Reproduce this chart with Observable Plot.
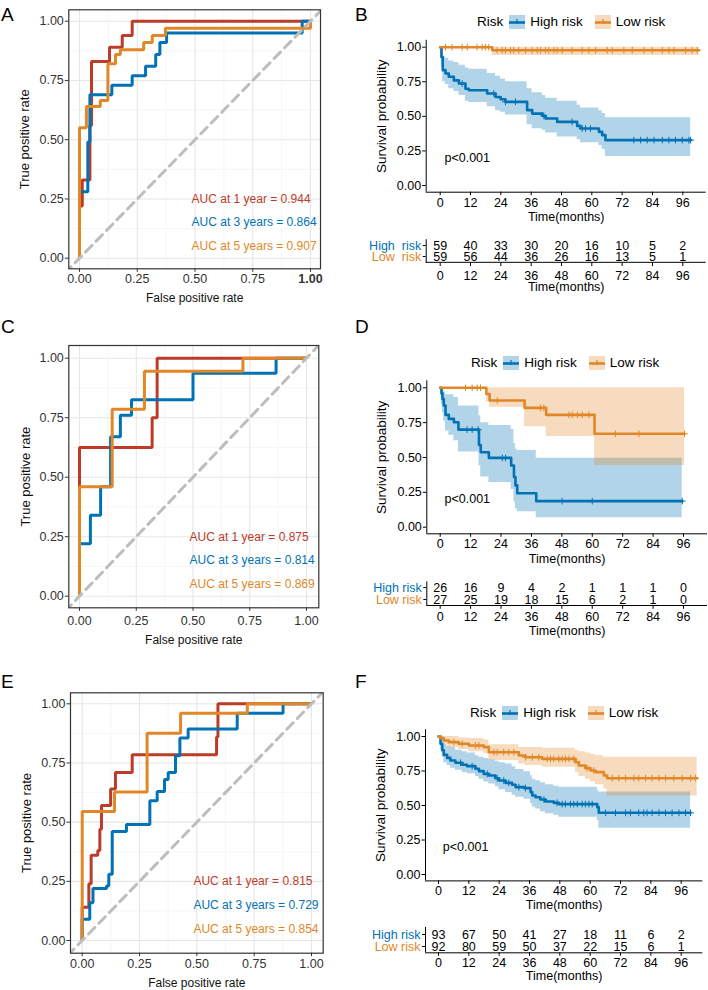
<!DOCTYPE html>
<html><head><meta charset="utf-8">
<script src="https://cdn.jsdelivr.net/npm/d3@7"></script>
<script src="https://cdn.jsdelivr.net/npm/@observablehq/plot@0.6"></script>
<style>
html,body{margin:0;padding:0;background:#fff;}
#fig{position:relative;width:708px;height:990px;overflow:hidden;font-family:"Liberation Sans",Arial,Helvetica,sans-serif;}
#fig text{white-space:pre;}
.letter{position:absolute;font-size:19px;line-height:19px;color:#000;}
.legend{position:absolute;display:flex;align-items:center;height:16px;font-size:13.5px;line-height:16px;color:#000;white-space:nowrap;}
</style></head>
<body><div id="fig"></div>
<script>
// ---------------- data ----------------
const rocTicks=[0,0.25,0.5,0.75,1];
const rocMinorTicks=[0.125,0.375,0.625,0.875];
const timeTicks=[0,12,24,36,48,60,72,84,96];
const survTicks=[0,0.25,0.5,0.75,1];
const rocSeries=["1 year","3 years","5 years"];
const riskGroups=["High risk","Low risk"];
const panelLetters=["A","B","C","D","E","F"];

// Panel A ROC
const aRedFpr=[0,0,0.012,0.045,0.052,0.13,0.185,0.228,1];
const aRedTpr=[0,0.22,0.33,0.56,0.83,0.89,0.94,1,1];
const aBlueFpr=[0,0,0.036,0.045,0.14,0.228,0.286,0.33,0.348,0.377,0.964,1];
const aBlueTpr=[0,0.28,0.49,0.69,0.73,0.77,0.81,0.86,0.91,0.95,1,1];
const aOrangeFpr=[0,0,0.03,0.09,0.123,0.156,0.177,0.278,0.315,0.372,1];
const aOrangeTpr=[0,0.55,0.64,0.665,0.82,0.86,0.88,0.91,0.94,0.97,1];
const aAuc=[0.944,0.864,0.907];

// Panel C ROC
const cRedFpr=[0,0,0.32,0.342,1];
const cRedTpr=[0,0.625,0.75,1,1];
const cBlueFpr=[0,0,0.048,0.093,0.137,0.18,0.229,0.5,0.866,1];
const cBlueTpr=[0,0.22,0.34,0.46,0.67,0.76,0.825,0.937,1,1];
const cOrangeFpr=[0,0,0.144,0.286,0.72,1];
const cOrangeTpr=[0,0.46,0.785,0.945,1,1];
const cAuc=[0.875,0.814,0.869];

// Panel E ROC
const eRedFpr=[0,0,0.029,0.039,0.068,0.077,0.084,0.124,0.145,0.218,0.586,0.592,1];
const eRedTpr=[0,0.14,0.24,0.36,0.38,0.47,0.57,0.64,0.71,0.785,0.86,1,1];
const eBlueFpr=[0,0,0.033,0.047,0.106,0.116,0.131,0.193,0.295,0.327,0.359,0.375,0.407,0.426,0.462,0.676,0.876,1];
const eBlueTpr=[0,0.09,0.16,0.22,0.23,0.28,0.46,0.49,0.59,0.63,0.68,0.71,0.78,0.856,0.894,0.96,1,1];
const eOrangeFpr=[0,0,0.141,0.283,0.429,0.72,1];
const eOrangeTpr=[0,0.545,0.627,0.876,0.96,1,1];
const eAuc=[0.815,0.729,0.854];

// Panel B KM
const bHighT=[0,0.5,1.0,2.1,3.4,5.4,7.4,10.0,11.3,18.6,21.9,23.9,25.8,34.4,36.4,40.4,41.7,46.3,54.2,55.5,62.8,64.1,65.4,99.1];
const bHighS=[1,0.93,0.834,0.81,0.786,0.76,0.737,0.70,0.689,0.665,0.64,0.624,0.605,0.545,0.52,0.504,0.484,0.46,0.431,0.412,0.388,0.364,0.328,0.328];
const bHighU=[1,1,0.93,0.92,0.90,0.89,0.87,0.85,0.84,0.81,0.79,0.77,0.75,0.70,0.67,0.65,0.63,0.61,0.58,0.56,0.54,0.52,0.49,0.49];
const bHighL=[1,0.86,0.75,0.73,0.70,0.68,0.65,0.61,0.60,0.57,0.54,0.53,0.51,0.44,0.41,0.40,0.38,0.35,0.33,0.31,0.29,0.26,0.21,0.21];
const bHighCens=[8.7,21.2,25.8,29.8,41.0,52.2,56.2,57.5,59.5,76.6,79.3,81.9,84.6,87.9,90.5,93.1,95.8,98.4,99.1];
const bLowT=[0,20.6,102.4];
const bLowS=[1,0.978,0.978];
const bLowU=[1,1,1];
const bLowL=[1,0.94,0.94];
const bLowCens=[2.1,4.7,8.7,10.7,14.6,16.6,17.9,19.2,22.5,24.5,25.8,27.8,29.1,31.1,33.8,36.4,38.4,39.7,41.7,43.0,45.0,46.3,48.3,52.2,56.2,58.8,61.5,66.1,68.1,72.7,76.0,80.6,83.9,87.9,90.5,92.5,97.1,99.7,101.7];
const bRiskHigh=[59,40,33,30,20,16,10,5,2];
const bRiskLow=[59,56,44,36,26,16,13,5,1];
const bRowLabels=["High  risk","Low  risk"];

// Panel D KM
const dHighT=[0,0.5,0.9,1.4,2.1,3.4,5.4,7.2,15.3,16.0,19.2,28.0,29.1,29.7,30.4,37.9,95.5];
const dHighS=[1,0.96,0.92,0.873,0.806,0.777,0.753,0.70,0.59,0.538,0.497,0.443,0.36,0.30,0.244,0.187,0.187];
const dHighU=[1,1,0.99,0.97,0.95,0.95,0.93,0.87,0.80,0.75,0.73,0.70,0.60,0.56,0.55,0.495,0.495];
const dHighL=[1,0.88,0.82,0.76,0.69,0.66,0.62,0.54,0.44,0.36,0.32,0.27,0.18,0.13,0.11,0.067,0.067];
const dHighCens=[10.6,12.6,15.0,24.5,25.8,48.1,60.0,95.5];
const dLowT=[0,18.2,19.5,33.3,41.8,60.9,96.4];
const dLowS=[1,0.955,0.909,0.856,0.806,0.67,0.67];
const dLowU=[1,1,1,1,1,1,1];
const dLowL=[1,0.90,0.86,0.72,0.65,0.443,0.443];
const dLowCens=[10.0,12.6,14.6,15.9,22.5,39.6,40.9,50.8,52.1,54.1,56.0,58.7,69.2,78.4,96.4];
const dRiskHigh=[26,16,9,4,2,1,1,1,0];
const dRiskLow=[27,25,19,18,15,6,2,1,0];
const dRowLabels=["High risk","Low risk"];

// Panel F KM
const fHighT=[0,0.8,1.5,2.1,3.4,4.7,6.7,9.4,11.3,14.6,16.0,17.9,19.9,22.5,23.9,26.5,29.1,30.5,33.8,36.4,37.1,38.4,40.3,42.3,45.6,47.6,62.8,63.4,99.7];
const fHighS=[1,0.947,0.90,0.867,0.845,0.826,0.81,0.795,0.785,0.766,0.749,0.729,0.717,0.698,0.681,0.664,0.65,0.633,0.626,0.597,0.572,0.56,0.543,0.529,0.519,0.51,0.488,0.447,0.447];
const fHighU=[1,0.99,0.96,0.94,0.93,0.92,0.90,0.89,0.88,0.86,0.85,0.84,0.83,0.82,0.81,0.80,0.78,0.76,0.745,0.715,0.69,0.68,0.665,0.65,0.64,0.633,0.61,0.597,0.597];
const fHighL=[1,0.90,0.85,0.81,0.79,0.77,0.755,0.74,0.73,0.71,0.69,0.67,0.655,0.635,0.615,0.595,0.575,0.56,0.545,0.515,0.49,0.475,0.455,0.44,0.43,0.415,0.39,0.336,0.336];
const fHighCens=[8.7,13.3,19.3,23.2,25.8,27.8,31.8,34.4,41.7,46.9,48.9,50.2,52.2,53.5,54.9,56.8,58.1,59.5,60.8,66.1,70.0,74.0,75.9,79.2,81.2,82.5,84.5,87.2,89.8,92.4,95.1,97.7,99.7];
const fLowT=[0,0.8,2.1,4.1,8.0,12.0,17.9,19.9,31.8,34.4,41.0,54.2,55.5,58.1,60.1,62.1,65.4,66.7,102.3];
const fLowS=[1,0.988,0.971,0.959,0.947,0.935,0.923,0.886,0.862,0.85,0.838,0.814,0.79,0.771,0.754,0.742,0.717,0.698,0.698];
const fLowU=[1,1,1,1,0.99,0.985,0.975,0.94,0.92,0.92,0.915,0.90,0.89,0.88,0.87,0.86,0.85,0.85,0.85];
const fLowL=[1,0.96,0.94,0.92,0.905,0.89,0.875,0.826,0.80,0.79,0.778,0.74,0.71,0.69,0.67,0.65,0.62,0.568,0.568];
const fLowCens=[6.1,9.4,14.6,16.0,21.9,23.2,25.8,27.8,29.8,34.4,37.1,39.7,43.0,44.3,45.6,47.6,48.9,50.2,51.6,53.5,58.8,61.4,68.7,71.3,74.0,77.3,79.2,81.9,84.5,87.2,89.8,93.1,96.4,99.7,101.7];
const fRiskHigh=[93,67,50,41,27,18,11,6,2];
const fRiskLow=[92,80,59,50,37,22,15,6,1];
const fRowLabels=["High risk","Low risk"];

// ---------------- drawing ----------------
const FONT='"Liberation Sans", Arial, Helvetica, sans-serif';
const rocColors=["#BC3C29","#0072B5","#E18727"];
const HIGH="#0072B5", LOW="#E18727";
const fig=document.getElementById("fig");
const fmt2=d3.format(".2f");
function put(el,left,top){el.style.position="absolute";el.style.left=left+"px";el.style.top=top+"px";fig.appendChild(el);return el;}
function style(color){return {fontFamily:FONT,fontSize:"12.5px",color:color,background:"transparent",overflow:"visible"};}
function stepAt(T,S,t){let v=S[0];for(let i=0;i<T.length;i++){if(T[i]<=t)v=S[i];}return v;}

function rocPanel(o){
  const kx=o.px1-o.px0, ky=o.py0-o.py1, W=354;
  const xd=[(o.fx0-o.px0)/kx,(o.fx1-o.px0)/kx];
  const yd=[(o.py0-o.fy1)/ky,(o.py0-o.fy0)/ky];
  const marks=[
    Plot.gridX({ticks:rocMinorTicks,stroke:"#f2f2f2",strokeOpacity:1,strokeWidth:0.7}),
    Plot.gridY({ticks:rocMinorTicks,stroke:"#f2f2f2",strokeOpacity:1,strokeWidth:0.7}),
    Plot.gridX({ticks:rocTicks,stroke:"#e6e6e6",strokeOpacity:1,strokeWidth:1.1}),
    Plot.gridY({ticks:rocTicks,stroke:"#e6e6e6",strokeOpacity:1,strokeWidth:1.1})
  ];
  o.curves.forEach((c,i)=>{
    const pts=c[0].map((f,j)=>({fpr:f,tpr:c[1][j]}));
    marks.push(Plot.line(pts,{x:"fpr",y:"tpr",curve:"step-after",stroke:rocColors[i],strokeWidth:3,strokeLinejoin:"miter",strokeLinecap:"butt"}));
  });
  marks.push(Plot.line([{v:-0.2},{v:1.2}],{x:"v",y:"v",stroke:"#bdbdbd",strokeWidth:3,strokeDasharray:"9,6",clip:true}));
  const aucY=[0.25,0.15,0.05];
  o.auc.forEach((a,i)=>{
    marks.push(Plot.text([`AUC at ${rocSeries[i]} = ${a.toFixed(3)}`],{x:()=>0.485,y:()=>aucY[i],text:d=>d,textAnchor:"start",lineAnchor:"middle",fill:rocColors[i],fontSize:12}));
  });
  marks.push(
    Plot.frame({stroke:"#333",strokeWidth:1.2}),
    Plot.axisX({ticks:rocTicks,tickFormat:fmt2,tickSize:3.5,tickPadding:o.xtp,label:null}),
    Plot.axisY({ticks:rocTicks,tickFormat:fmt2,tickSize:3.5,tickPadding:1.5,label:null}),
    Plot.text(["False positive rate"],{frameAnchor:"bottom",dy:o.xtd,text:d=>d,lineAnchor:"middle",textAnchor:"middle",fontSize:12,fill:"#111"}),
    Plot.text(["True positive rate"],{frameAnchor:"left",rotate:-90,dx:o.ytd,text:d=>d,lineAnchor:"middle",textAnchor:"middle",fontSize:13,fill:"#111"})
  );
  const svg=Plot.plot({width:W,height:o.H,marginLeft:o.fx0,marginRight:W-o.fx1,marginTop:o.fy0-o.top,marginBottom:o.top+o.H-o.fy1,
    style:style("#333"),x:{domain:xd},y:{domain:yd},marks});
  if(o.boldLast){const t=svg.querySelectorAll('g[aria-label="x-axis tick label"] text');if(t.length)t[t.length-1].style.fontWeight="bold";}
  put(svg,0,o.top);
}

function kmScales(o){
  const k=(o.x96-o.x0)/96;
  return [(o.fx0-o.x0)/k,(o.fx1-o.x0)/k];
}

function kmPanel(o){
  const W=354, L=354, ky=o.y0-o.y1;
  const xd=kmScales(o);
  const yd=[(o.y0-o.fyb)/ky,(o.y0-o.fyt)/ky];
  const marks=[];
  o.groups.forEach(g=>{
    const rows=g.T.map((t,i)=>({t,s:g.S[i],u:g.U[i],l:g.L[i]}));
    marks.push(Plot.areaY(rows,{x:"t",y1:"l",y2:"u",curve:"step-after",fill:g.color,fillOpacity:0.3}));
  });
  o.groups.forEach(g=>{
    const rows=g.T.map((t,i)=>({t,s:g.S[i]}));
    marks.push(Plot.line(rows,{x:"t",y:"s",curve:"step-after",stroke:g.color,strokeWidth:2.6}));
    marks.push(Plot.dot(g.cens.map(t=>({t,s:stepAt(g.T,g.S,t)})),{x:"t",y:"s",symbol:"plus",r:2.3,stroke:g.color,strokeWidth:1}));
  });
  marks.push(
    Plot.text(["p<0.001"],{x:()=>1.7,y:()=>0.2,text:d=>d,textAnchor:"start",lineAnchor:"middle",fontSize:12.5,fill:"#000"}),
    Plot.ruleX([xd[0]],{stroke:"#000",strokeWidth:1}),
    Plot.ruleY([yd[0]],{stroke:"#000",strokeWidth:1}),
    Plot.axisX({ticks:timeTicks,tickSize:3.5,tickPadding:o.xtp,label:null}),
    Plot.axisY({ticks:survTicks,tickFormat:fmt2,tickSize:3.5,tickPadding:1.5,label:null}),
    Plot.text(["Time(months)"],{frameAnchor:"bottom",dy:o.xtd,text:d=>d,lineAnchor:"middle",textAnchor:"middle",fontSize:12.5,fill:"#000"}),
    Plot.text(["Survival probability"],{frameAnchor:"left",rotate:-90,dx:o.ytd,text:d=>d,lineAnchor:"middle",textAnchor:"middle",fontSize:13.5,fill:"#000"})
  );
  const svg=Plot.plot({width:W,height:o.H,marginLeft:o.fx0-L,marginRight:L+W-o.fx1,marginTop:o.fyt-o.top,marginBottom:o.top+o.H-o.fyb,
    style:style("#000"),x:{domain:xd},y:{domain:yd},marks});
  put(svg,L,o.top);
}

function riskTable(o){
  const W=354, L=354;
  const xd=kmScales(o);
  const labels=o.labels;
  const rows=[];
  timeTicks.forEach((t,i)=>{rows.push({t,g:labels[0],n:o.high[i]});rows.push({t,g:labels[1],n:o.low[i]});});
  const h=o.fyb-o.fyt;
  const marks=[
    Plot.text(rows,{x:"t",y:"g",text:d=>String(d.n),lineAnchor:"middle",fontSize:12.5,fill:"#000"}),
    Plot.text([labels[0]],{x:()=>xd[0],y:d=>d,text:d=>d,dx:-5,textAnchor:"end",lineAnchor:"middle",fill:HIGH,fontSize:12.5}),
    Plot.text([labels[1]],{x:()=>xd[0],y:d=>d,text:d=>d,dx:-5,textAnchor:"end",lineAnchor:"middle",fill:LOW,fontSize:12.5}),
    Plot.ruleX([xd[0]],{stroke:"#000",strokeWidth:1}),
    Plot.ruleY([labels[1]],{dy:h/4,stroke:"#000",strokeWidth:1}),
    Plot.axisY({tickSize:3,tickFormat:()=>"",label:null}),
    Plot.axisX({ticks:timeTicks,tickSize:3.5,tickPadding:o.xtp,label:null}),
    Plot.text(["Time(months)"],{frameAnchor:"bottom",dy:o.xtd,text:d=>d,lineAnchor:"middle",textAnchor:"middle",fontSize:12.5,fill:"#000"})
  ];
  const svg=Plot.plot({width:W,height:o.H,marginLeft:o.fx0-L,marginRight:L+W-o.fx1,marginTop:o.fyt-o.top,marginBottom:o.top+o.H-o.fyb,
    style:style("#000"),x:{domain:xd},y:{type:"point",domain:labels,padding:0.5},marks});
  put(svg,L,o.top);
}

function swatch(c){
  return `<svg width="16" height="14" style="display:block"><rect x="0" y="0" width="16" height="14" fill="${c}" fill-opacity="0.3"/><line x1="0" x2="16" y1="7.5" y2="7.5" stroke="${c}" stroke-width="2.6"/><line x1="8" x2="8" y1="4" y2="9" stroke="${c}" stroke-width="1.2"/></svg>`;
}
function legend(left,cy){
  const d=document.createElement("div");d.className="legend";
  d.innerHTML=`<span>Risk</span><span style="margin-left:6px">${swatch(HIGH)}</span><span style="margin-left:5px">${riskGroups[0]}</span><span style="margin-left:12px">${swatch(LOW)}</span><span style="margin-left:5px">${riskGroups[1]}</span>`;
  put(d,left,cy-8);
}
function letter(txt,left,top){const d=document.createElement("div");d.className="letter";d.textContent=txt;put(d,left,top);}

// ROC panels
rocPanel({top:0,H:310,px0:79,px1:310,fx0:68.3,fx1:320,py1:20.7,py0:257.7,fy0:9.3,fy1:268.3,xtp:2.1,xtd:29.4,ytd:-44.3,boldLast:true,
  curves:[[aRedFpr,aRedTpr],[aBlueFpr,aBlueTpr],[aOrangeFpr,aOrangeTpr]],auc:aAuc});
rocPanel({top:320,H:330,px0:79,px1:306,fx0:68.3,fx1:318.3,py1:357.7,py0:595.7,fy0:345,fy1:607.3,xtp:4.8,xtd:32,ytd:-43,
  curves:[[cRedFpr,cRedTpr],[cBlueFpr,cBlueTpr],[cOrangeFpr,cOrangeTpr]],auc:cAuc});
rocPanel({top:660,H:330,px0:81.7,px1:311,fx0:70,fx1:322.7,py1:703.3,py0:940,fy0:692.3,fy1:952.7,xtp:2.7,xtd:30,ytd:-44,
  curves:[[eRedFpr,eRedTpr],[eBlueFpr,eBlueTpr],[eOrangeFpr,eOrangeTpr]],auc:eAuc});

// KM panels
const gB=[{T:bHighT,S:bHighS,U:bHighU,L:bHighL,cens:bHighCens,color:HIGH},{T:bLowT,S:bLowS,U:bLowU,L:bLowL,cens:bLowCens,color:LOW}];
const gD=[{T:dHighT,S:dHighS,U:dHighU,L:dHighL,cens:dHighCens,color:HIGH},{T:dLowT,S:dLowS,U:dLowU,L:dLowL,cens:dLowCens,color:LOW}];
const gF=[{T:fHighT,S:fHighS,U:fHighU,L:fHighL,cens:fHighCens,color:HIGH},{T:fLowT,S:fLowS,U:fLowU,L:fLowL,cens:fLowCens,color:LOW}];

kmPanel({top:28,H:198,x0:439.7,x96:682.3,fx0:425.7,fx1:705.7,y1:46.7,y0:185,fyt:39.8,fyb:191.7,xtp:2.1,xtd:25,ytd:-45,groups:gB});
riskTable({top:232,H:60,x0:439.7,x96:682.3,fx0:425.7,fx1:705.7,fyt:239.2,fyb:262.5,xtp:4.6,xtd:24.2,labels:bRowLabels,high:bRiskHigh,low:bRiskLow});
kmPanel({top:370,H:198,x0:439.7,x96:683,fx0:426.3,fx1:707,y1:387.3,y0:526.7,fyt:380.3,fyb:533.3,xtp:2.1,xtd:25,ytd:-45.6,groups:gD});
riskTable({top:575,H:65,x0:439.7,x96:683,fx0:426.3,fx1:707,fyt:581.3,fyb:605.3,xtp:2.8,xtd:24.7,labels:dRowLabels,high:dRiskHigh,low:dRiskLow});
kmPanel({top:720,H:195,x0:438,x96:680.7,fx0:425,fx1:702.3,y1:736,y0:874,fyt:729.1,fyb:880.4,xtp:1.6,xtd:24.5,ytd:-45,groups:gF});
riskTable({top:920,H:70,x0:438,x96:680.7,fx0:425,fx1:702.3,fyt:927,fyb:952.3,xtp:1.5,xtd:22.7,labels:fRowLabels,high:fRiskHigh,low:fRiskLow});

legend(477,22);
legend(471,363.3);
legend(470,712.7);

letter(panelLetters[0],1,5);
letter(panelLetters[1],355,5);
letter(panelLetters[2],1,317);
letter(panelLetters[3],355,317);
letter(panelLetters[4],1,672);
letter(panelLetters[5],355,672);
</script></body></html>
